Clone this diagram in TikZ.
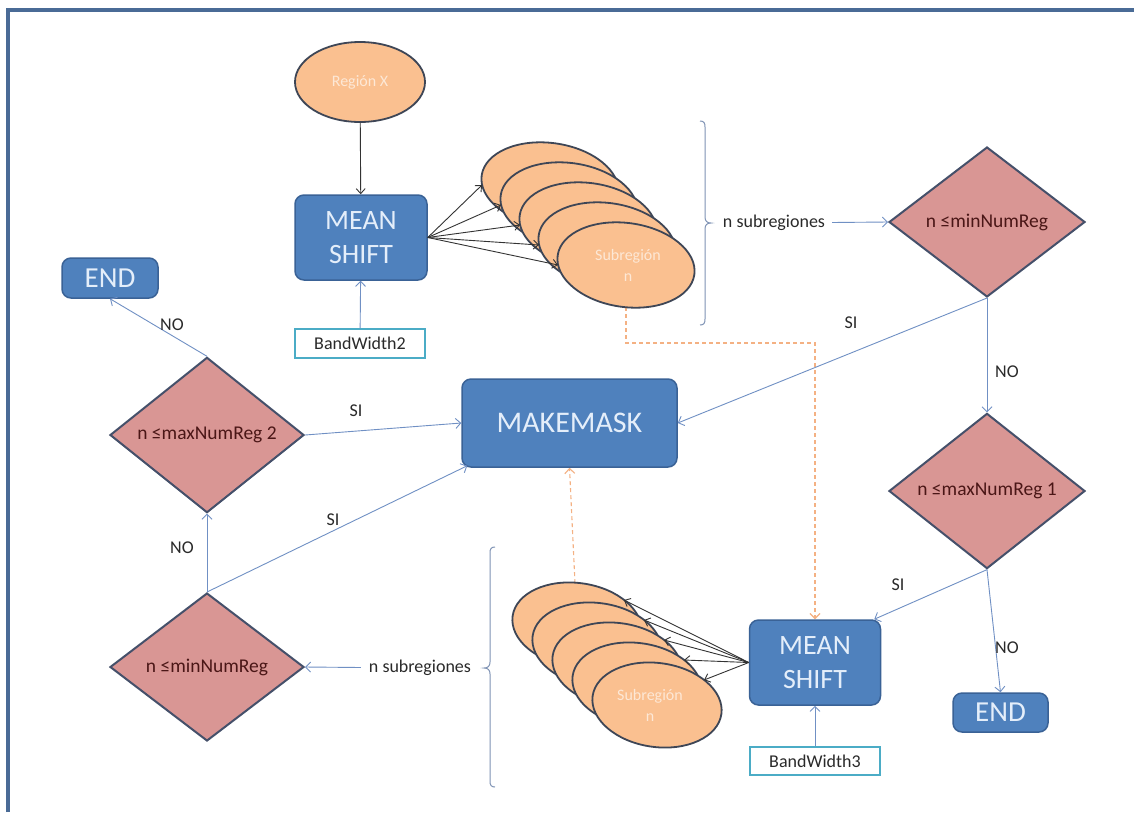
\documentclass[tikz,border=0pt]{standalone}
\usepackage{fontspec}
\setmainfont{Carlito}
\usetikzlibrary{shapes.geometric,arrows.meta,calc,backgrounds}

\definecolor{boxblue}{HTML}{4F81BD}
\definecolor{boxedge}{HTML}{3A6296}
\definecolor{boxtext}{HTML}{E4EEFA}
\definecolor{rose}{HTML}{D99694}
\definecolor{roseedge}{HTML}{45506A}
\definecolor{rosetext}{HTML}{4A1616}
\definecolor{peach}{HTML}{FAC090}
\definecolor{peachedge}{HTML}{3E4656}
\definecolor{peachtext}{HTML}{FDE8D6}
\definecolor{paramedge}{HTML}{4BACC6}
\definecolor{linkblue}{HTML}{7090C4}
\definecolor{dashorange}{HTML}{F4B183}
\definecolor{framecol}{HTML}{4A6B96}
\definecolor{labeltext}{HTML}{2A2A2A}
\definecolor{bracecol}{HTML}{7F93B5}

\begin{document}
\begin{tikzpicture}[x=1pt,y=-1pt,
  proc/.style={rectangle, rounded corners=9pt, draw=boxedge, line width=1.5pt,
    fill=boxblue, text=boxtext, align=center, inner sep=0pt},
  decision/.style={diamond, draw=roseedge, line width=2pt, fill=rose,
    text=rosetext, font=\fontsize{19.5}{22}\selectfont, inner sep=0pt},
  blob/.style={ellipse, draw=peachedge, line width=1.8pt, fill=peach, inner sep=0pt},
  blobtext/.style={text=peachtext, align=center, font=\fontsize{16}{21}\selectfont},
  param/.style={rectangle, draw=paramedge, line width=2pt, fill=white,
    text=labeltext, font=\fontsize{18}{20}\selectfont, inner sep=0pt},
  flowline/.style={draw=linkblue, line width=0.9pt,
    -{Straight Barb[length=5pt,width=10pt]}},
  darkline/.style={draw=black!80, line width=0.9pt,
    -{Straight Barb[length=5pt,width=9pt]}},
  flowdash/.style={draw=dashorange, line width=1.1pt, dash pattern=on 4pt off 3pt,
    -{Straight Barb[length=5pt,width=10pt]}},
  lbl/.style={text=labeltext, font=\fontsize{18}{20}\selectfont, inner sep=1pt}]

\useasboundingbox (0,0) rectangle (1134,812);
\begin{pgfonlayer}{background}
  \fill[white] (0,0) rectangle (1134,812);
\end{pgfonlayer}

% page frame (top and left edges)
\draw[framecol, line width=3.5pt] (8,812) -- (8,10) -- (1134,10);

% ---- upper branch: Region X -> MEAN SHIFT -> subregions
\node[blob, minimum width=130pt, minimum height=80pt] (rx) at (360,82) {};
\node[blobtext] (rxtext) at (360,82) {Región X};

\node[proc, minimum width=132pt, minimum height=85pt,
      font=\fontsize{28}{34}\selectfont] (ms1) at (361,237.5) {MEAN\\SHIFT};
\node[param, minimum width=130pt, minimum height=29pt] (bw2) at (360,343.5) {BandWidth2};

\foreach \i in {1,...,5}
  \node[blob, minimum width=138pt, minimum height=84pt, rotate=-8]
    (te\i) at ({550+19*(\i-1)},{185+20*(\i-1)}) {};
\node[blobtext] (tetext) at (628,265) {Subregión\\n};

% brace grouping the upper subregions
\draw[bracecol, line width=1pt]
  (700,121) .. controls (704,121) and (705,123) .. (705,127) -- (705,217)
  .. controls (705,221) and (707,223) .. (711,223)
  .. controls (707,223) and (705,225) .. (705,229) -- (705,319)
  .. controls (705,323) and (704,325) .. (700,325);
\node[lbl, inner sep=7pt] (nsub1) at (774,223) {n subregiones};

% ---- decisions on the right
\node[decision, minimum width=196pt, minimum height=150pt] (dmin1) at (987,222) {n ≤minNumReg};
\node[decision, minimum width=196pt, minimum height=148pt] (dmax1) at (987,491) {n ≤maxNumReg 1};
\node[proc, minimum width=95pt, minimum height=39pt,
      font=\fontsize{29}{32}\selectfont] (end2) at (1000.5,712.5) {END};

% ---- central mask step
\node[proc, minimum width=215pt, minimum height=88pt,
      font=\fontsize{30}{34}\selectfont] (mm) at (569.5,423) {MAKEMASK};

% ---- lower branch
\node[proc, minimum width=131pt, minimum height=85pt,
      font=\fontsize{28}{34}\selectfont] (ms2) at (815,662.5) {MEAN\\SHIFT};
\node[param, minimum width=130pt, minimum height=28pt] (bw3) at (815,761) {BandWidth3};

\foreach \i in {1,...,5}
  \node[blob, minimum width=130pt, minimum height=84pt, rotate=-8]
    (be\i) at ({577+20*(\i-1)},{625+20*(\i-1)}) {};
\node[blobtext] (betext) at (650,705) {Subregión\\n};

% brace grouping the lower subregions
\draw[bracecol, line width=1pt]
  (495,547) .. controls (491,547) and (490,549) .. (490,553) -- (490,662)
  .. controls (490,666) and (488,668) .. (484,668)
  .. controls (488,668) and (490,670) .. (490,674) -- (490,781)
  .. controls (490,785) and (491,787) .. (495,787);
\node[lbl, inner sep=8pt] (nsub2) at (420,668) {n subregiones};

% ---- decisions on the left
\node[decision, minimum width=194pt, minimum height=148pt] (dmin2) at (207,667) {n ≤minNumReg};
\node[decision, minimum width=194pt, minimum height=146pt] (dmax2) at (207,435) {n ≤maxNumReg 2};
\node[proc, minimum width=96pt, minimum height=40pt,
      font=\fontsize{29}{32}\selectfont] (end1) at (110,278) {END};

% ---- dashed hand-over lines, kept under the shapes
\begin{pgfonlayer}{background}
  \draw[flowdash] (te5.center) -- (626,343) -| (ms2.north);
  \draw[flowdash] (be1.center) -- (mm.south);
\end{pgfonlayer}

% ---- connectors
\draw[darkline] (rx) -- (ms1);
\draw[flowline] (bw2) -- (ms1);
\foreach \i in {1,...,5}
  \draw[darkline] (ms1.east) -- ($(te\i.center)+(-68,0)$);

\draw[flowline] (nsub1) -- (dmin1.west);
\draw[flowline] (dmin1.south) -- (dmax1.north);
\node[lbl] (lno1) at (1007,372) {NO};
\draw[flowline] (dmin1.south) -- (mm.east);
\node[lbl] (lsi1) at (851,323) {SI};

\draw[flowline] (dmax1.south) -- ($(ms2.north east)+(-7,0)$);
\node[lbl] (lsi2) at (898,585) {SI};
\draw[flowline] (dmax1.south) -- (end2.north);
\node[lbl] (lno2) at (1007,648) {NO};

\draw[flowline] (bw3) -- (ms2);
\foreach \i in {1,...,5}
  \draw[darkline] (ms2.west) -- ($(be\i.center)+(47,-25)$);

\draw[flowline] (nsub2) -- (dmin2.east);
\draw[flowline] (dmin2.north) -- (dmax2.south);
\node[lbl] (lno3) at (182,548) {NO};
\draw[flowline] (dmin2.north) -- ($(mm.south west)+(6,-2)$);
\node[lbl] (lsi3) at (333,520) {SI};

\draw[flowline] (dmax2.east) -- (mm.west);
\node[lbl] (lsi4) at (356,411) {SI};
\draw[flowline] (dmax2.north) -- (end1.south);
\node[lbl] (lno4) at (172,325) {NO};

\end{tikzpicture}
\end{document}
